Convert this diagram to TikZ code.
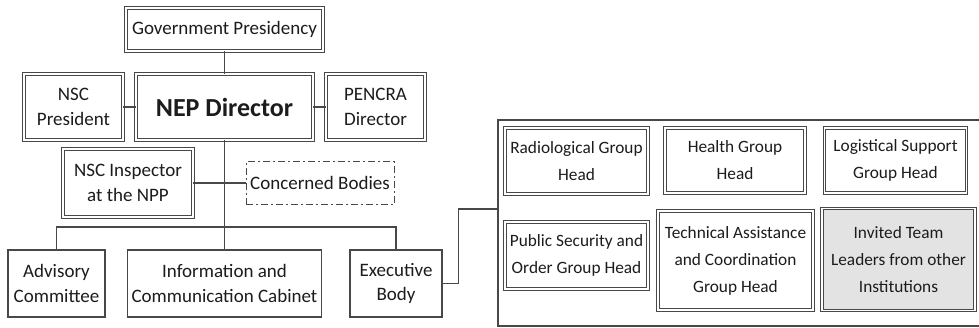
\documentclass[tikz,border=0pt]{standalone}
\usepackage{fontspec}
\setmainfont{Carlito}
\usetikzlibrary{shadows}
\definecolor{boxline}{HTML}{484848}
\definecolor{boxtext}{HTML}{1C1C1C}
\definecolor{invfill}{HTML}{E3E3E3}

\begin{document}
\begin{tikzpicture}[x=1pt, y=-1pt,
    every node/.style={text=boxtext, align=center, inner sep=0pt},
    plain/.style={draw=boxline, line width=1.1pt, fill=white, font=\fontsize{19}{24.5}\selectfont},
    dbl/.style={plain, double=white, double distance=1.6pt, line width=0.9pt, drop shadow={shadow xshift=1.5pt, shadow yshift=-1.5pt, opacity=0.2, fill=black}},
    grp/.style={dbl, font=\fontsize{17.3}{27}\selectfont},
    link/.style={draw=boxline, line width=1.1pt}]
        \useasboundingbox (0,0) rectangle (979,327);
        % left part
        \node[dbl, minimum width=197pt, minimum height=43pt] (gov) at (224.5,29.5) {Government Presidency};
        \node[dbl, minimum width=99pt, minimum height=66pt] (nscpres) at (73.5,107) {NSC\\President};
        \node[dbl, minimum width=177pt, minimum height=66pt, font=\fontsize{26}{30}\selectfont\bfseries] (nep) at (224.5,107) {NEP Director};
        \node[dbl, minimum width=99pt, minimum height=66pt] (pencra) at (375.5,107) {PENCRA\\Director};
        \node[dbl, minimum width=130pt, minimum height=68pt] (nscinsp) at (128,183) {NSC Inspector\\at the NPP};
        \node[plain, line width=0.9pt, dash pattern=on 7pt off 3pt on 2pt off 3pt, minimum width=148pt, minimum height=43pt] (concerned) at (320,183) {Concerned Bodies};
        \node[plain, minimum width=97pt, minimum height=67pt] (advisory) at (56.5,283.5) {Advisory\\Committee};
        \node[plain, minimum width=194pt, minimum height=67pt] (info) at (224.5,283.5) {Information and\\Communication Cabinet};
        \node[plain, minimum width=92pt, minimum height=67pt] (exec) at (396,283.5) {Executive\\Body};
        \coordinate (fork) at (224.5,227); \coordinate (tin) at (498,209);
        \draw[link] (gov) -- (nep); \draw[link] (nscpres) -- (nep); \draw[link] (nep) -- (pencra);
        \draw[link] (nep.south) -- (info.north); \draw[link] (nscinsp) -- (concerned);
        \draw[link] (advisory.north) |- (fork) -| (exec.north);
        \draw[link] (exec.east) -- ++(16,0) |- (tin);
        % right part
        \node[plain, minimum width=500pt, minimum height=206pt] (team) at (748,223) {};
        \node[grp, minimum width=143pt, minimum height=66pt] (radio) at (576.5,161) {Radiological Group\\Head};
        \node[grp, minimum width=140pt, minimum height=65pt] (health) at (735,160.5) {Health Group\\Head};
        \node[grp, minimum width=142pt, minimum height=65pt] (logist) at (895.5,160.5) {Logistical Support\\Group Head};
        \node[grp, line width=1.4pt, double distance=1.3pt, minimum width=143pt, minimum height=67pt] (pubsec) at (576.5,255.5) {Public Security and\\Order Group Head};
        \node[grp, minimum width=155pt, minimum height=99pt] (techass) at (735.5,260.5) {Technical Assistance\\and Coordination\\Group Head};
        \node[grp, fill=invfill, minimum width=153pt, minimum height=102pt] (invited) at (898.5,259.5) {Invited Team\\Leaders from other\\Institutions};
\end{tikzpicture}
\end{document}
